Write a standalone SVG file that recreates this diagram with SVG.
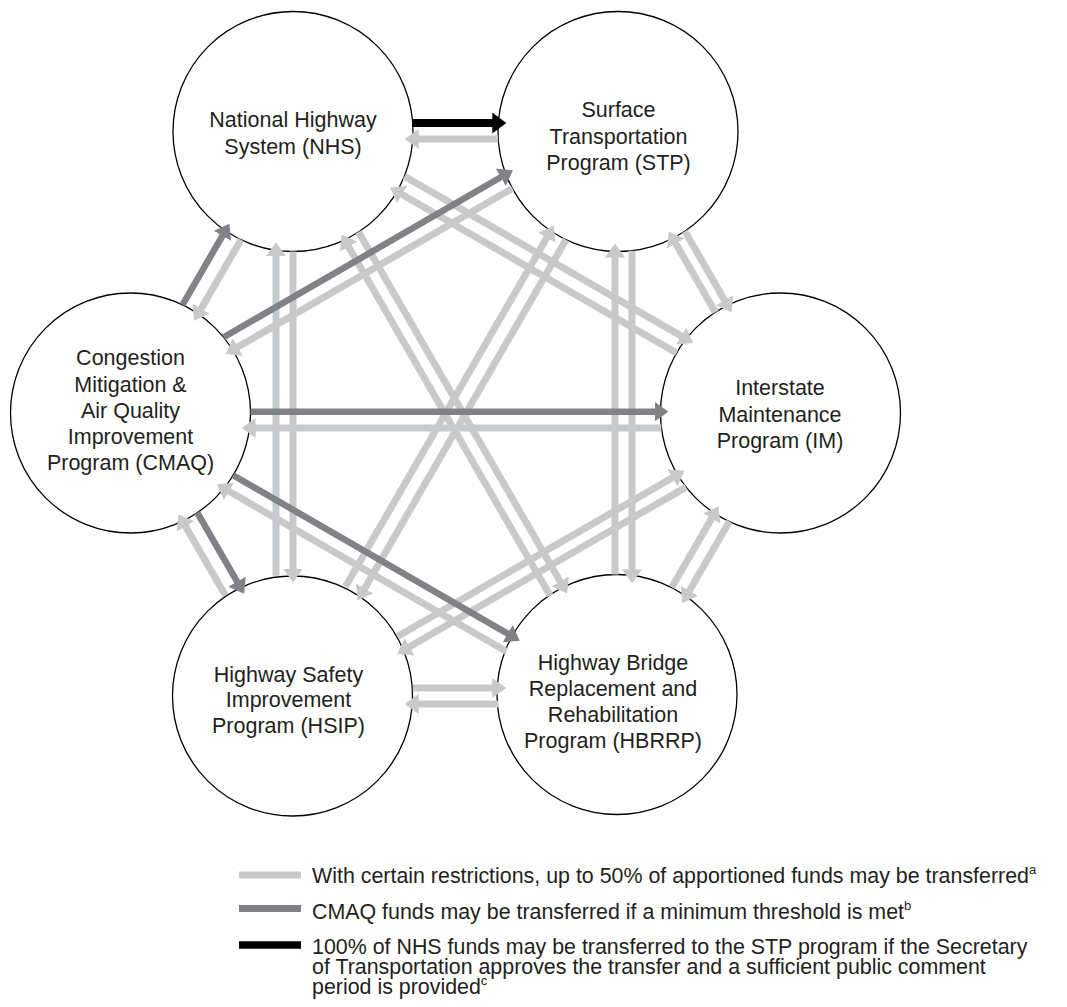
<svg xmlns="http://www.w3.org/2000/svg" width="1067" height="1007" viewBox="0 0 1067 1007">
<style>
.bg{fill:#fff}
.node circle{fill:#fff;stroke:#000;stroke-width:1.3}
.node text,.legend text{font-family:"Liberation Sans",Arial,Helvetica,sans-serif;fill:#231f20}
.node text{font-size:21.5px;text-anchor:middle}
.legend text{font-size:21.4px}
.sup{font-size:13px}
.light{stroke:#c8c9cb;stroke-width:7;fill:none;marker-end:url(#ah-light)}
.dark{stroke:#808285;stroke-width:6.5;fill:none;marker-end:url(#ah-dark)}
.black{stroke:#000;stroke-width:8;fill:none;marker-end:url(#ah-black)}
.sw-light{stroke:#c8c9cb;stroke-width:7}
.sw-dark{stroke:#808285;stroke-width:7}
.sw-black{stroke:#000;stroke-width:7.5}
</style>
<defs>
<marker id="ah-light" markerUnits="userSpaceOnUse" viewBox="0 0 14 20" markerWidth="14" markerHeight="20" refX="2" refY="10" orient="auto"><path d="M0,0 L14,10 L0,20 z" fill="#c8c9cb"/></marker>
<marker id="ah-dark" markerUnits="userSpaceOnUse" viewBox="0 0 14 20" markerWidth="14" markerHeight="20" refX="2" refY="10" orient="auto"><path d="M0,0 L14,10 L0,20 z" fill="#808285"/></marker>
<marker id="ah-black" markerUnits="userSpaceOnUse" viewBox="0 0 14 21" markerWidth="14" markerHeight="21" refX="2" refY="10.5" orient="auto"><path d="M0,0 L14,10.5 L0,21 z" fill="#000"/></marker>
</defs>
<rect class="bg" x="0" y="0" width="1067" height="1007"/>

<g id="node-nhs" class="node">
<circle cx="293" cy="131.5" r="120"/>
<text x="293" y="127">National Highway</text>
<text x="293" y="154">System (NHS)</text>
</g>
<g id="node-stp" class="node">
<circle cx="618" cy="131.5" r="120"/>
<text x="618.5" y="117">Surface</text>
<text x="618.5" y="143.5">Transportation</text>
<text x="618.5" y="170">Program (STP)</text>
</g>
<g id="node-im" class="node">
<circle cx="780.5" cy="413" r="120"/>
<text x="780" y="395">Interstate</text>
<text x="780" y="421.5">Maintenance</text>
<text x="780" y="448">Program (IM)</text>
</g>
<g id="node-hbrrp" class="node">
<circle cx="617" cy="694.5" r="120"/>
<text x="613" y="670">Highway Bridge</text>
<text x="613" y="695.5">Replacement and</text>
<text x="613" y="721.5">Rehabilitation</text>
<text x="613" y="748">Program (HBRRP)</text>
</g>
<g id="node-hsip" class="node">
<circle cx="292.5" cy="696" r="120"/>
<text x="288.5" y="681.5">Highway Safety</text>
<text x="288.5" y="707">Improvement</text>
<text x="288.5" y="733">Program (HSIP)</text>
</g>
<g id="node-cmaq" class="node">
<circle cx="130.5" cy="413" r="120"/>
<text x="130.5" y="365">Congestion</text>
<text x="130.5" y="391.5">Mitigation &amp;</text>
<text x="130.5" y="417.5">Air Quality</text>
<text x="130.5" y="443.5">Improvement</text>
<text x="130.5" y="470">Program (CMAQ)</text>
</g>

<g id="connectors">
<g id="light-connectors">
<path class="light" d="M498.2,139 L416.7,139"/>
<path class="light" d="M684.8,231.2 L725.6,301.9"/>
<path class="light" d="M715.4,312.2 L674.7,241.8"/>
<path class="light" d="M729.4,521.6 L688.4,592.5"/>
<path class="light" d="M671.8,587.2 L712.6,516.7"/>
<path class="light" d="M412.8,688 L494.2,688"/>
<path class="light" d="M498.4,704 L416.6,704"/>
<path class="light" d="M225.4,595.4 L184.5,524.6"/>
<path class="light" d="M241,239.7 L200.1,310.4"/>
<path class="light" d="M404.4,176.2 L682.8,336.9"/>
<path class="light" d="M676.6,353 L400.4,193.5"/>
<path class="light" d="M632,250.7 L632,571.4"/>
<path class="light" d="M615,574.5 L615,255.5"/>
<path class="light" d="M293,251.5 L293,570.5"/>
<path class="light" d="M276,575.7 L276,254.2"/>
<path class="light" d="M686.1,487.1 L407.8,647.8"/>
<path class="light" d="M397.9,636.2 L674.1,476.8"/>
<path class="light" d="M506.1,651.2 L227.3,490.3"/>
<path class="light" d="M512.4,188.4 L236.1,348"/>
<path class="light" d="M358.5,232 L561.2,583.2"/>
<path class="light" d="M550,595.6 L347.6,245"/>
<path class="light" d="M566,239.7 L363.6,590.2"/>
<path class="light" d="M345.5,586.6 L547.8,236.1"/>
<path class="light" d="M661.4,428 L253.6,428"/>
</g>
<g id="dark-connectors">
<path class="dark" d="M197.3,512.7 L238.1,583.4"/>
<path class="dark" d="M182.5,304.9 L223.4,234.1"/>
<path class="dark" d="M233.1,475.2 L509.4,634.7"/>
<path class="dark" d="M223.6,337.3 L502.5,176.3"/>
<path class="dark" d="M250.5,411.7 L656.5,411.7"/>
</g>
<g id="black-connectors">
<path class="black" d="M412.7,123 L494.3,123"/>
</g>
</g>

<g id="legend" class="legend">
<line class="sw-light" x1="239" y1="875" x2="301" y2="875"/>
<line class="sw-dark" x1="239" y1="908.5" x2="301" y2="908.5"/>
<line class="sw-black" x1="239" y1="945" x2="301" y2="945"/>
<text x="312" y="882.5">With certain restrictions, up to 50% of apportioned funds may be transferred<tspan class="sup" dy="-9">a</tspan></text>
<text x="312" y="918.5">CMAQ funds may be transferred if a minimum threshold is met<tspan class="sup" dy="-9">b</tspan></text>
<text x="312" y="953.5">100% of NHS funds may be transferred to the STP program if the Secretary</text>
<text x="312" y="973.5">of Transportation approves the transfer and a sufficient public comment</text>
<text x="312" y="993.5">period is provided<tspan class="sup" dy="-9">c</tspan></text>
</g>
</svg>
